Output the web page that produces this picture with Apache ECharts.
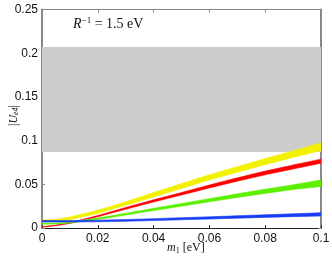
<!DOCTYPE html>
<html><head><meta charset="utf-8">
<script src="https://cdn.jsdelivr.net/npm/echarts@6/dist/echarts.min.js"></script>
<style>html,body{margin:0;padding:0;background:#fff}#c{width:332px;height:258px}</style>
</head><body><div id="c"></div>
<script>
const m1 = [0, 0.005, 0.01, 0.02, 0.03, 0.04, 0.05, 0.06, 0.07, 0.08, 0.09, 0.1];
const yellowLow = [0.0068, 0.0074, 0.0095, 0.0167, 0.0260, 0.0355, 0.0452, 0.0550, 0.0638, 0.0725, 0.0808, 0.0887];
const yellowHigh = [0.0092, 0.0100, 0.0125, 0.0203, 0.0300, 0.0405, 0.0508, 0.0610, 0.0702, 0.0795, 0.0882, 0.0975];
const redLow = [0.0010, 0.0027, 0.0052, 0.0128, 0.0215, 0.0298, 0.0378, 0.0458, 0.0536, 0.0609, 0.0675, 0.0742];
const redHigh = [0.0014, 0.0033, 0.0060, 0.0142, 0.0235, 0.0322, 0.0406, 0.0492, 0.0574, 0.0651, 0.0721, 0.0788];
const greenLow = [0.0043, 0.0047, 0.0056, 0.0097, 0.0148, 0.0199, 0.0250, 0.0300, 0.0349, 0.0396, 0.0440, 0.0474];
const greenHigh = [0.0053, 0.0057, 0.0068, 0.0113, 0.0168, 0.0225, 0.0280, 0.0336, 0.0391, 0.0444, 0.0494, 0.0550];
const blueLow = [0.0069, 0.0069, 0.0069, 0.0071, 0.0077, 0.0085, 0.0094, 0.0102, 0.0112, 0.0121, 0.0130, 0.0137];
const blueHigh = [0.0085, 0.0085, 0.0086, 0.0089, 0.0097, 0.0107, 0.0118, 0.0128, 0.0140, 0.0151, 0.0162, 0.0175];
const excluded = [0.087, 0.207];
const xTicks = [0, 0.02, 0.04, 0.06, 0.08, 0.1];
const yTicks = [0, 0.05, 0.1, 0.15, 0.2, 0.25];

const bands = [
  {low: yellowLow, high: yellowHigh, color:'#f2f200'},
  {low: redLow, high: redHigh, color:'#ff0000'},
  {low: greenLow, high: greenHigh, color:'#5cf000'},
  {low: blueLow, high: blueHigh, color:'#1a3cf5'}
];
function bandItem(params, api) {
  const b = bands[params.dataIndex];
  const pts = [];
  for (let k = 0; k < m1.length; k++) pts.push(api.coord([m1[k], b.high[k]]));
  for (let k = m1.length - 1; k >= 0; k--) pts.push(api.coord([m1[k], b.low[k]]));
  return {type:'polygon', shape:{points:pts}, style:{fill:b.color, stroke:b.color, lineWidth:0.6}};
}
function greyItem(params, api) {
  const p = [api.coord([xTicks[0], excluded[1]]), api.coord([xTicks[xTicks.length-1], excluded[0]])];
  return {type:'rect', shape:{x:p[0][0], y:p[0][1], width:p[1][0]-p[0][0], height:p[1][1]-p[0][1]}, style:{fill:'#cccccc'}};
}
const labelStyle = {fontFamily:'Liberation Sans, Arial', fontSize:12, color:'#111'};
const chart = echarts.init(document.getElementById('c'), null, {renderer:'canvas'});
chart.setOption({
  animation:false,
  grid:{left:42, right:11, top:9.5, bottom:30, containLabel:false, outerBoundsMode:'none'},
  xAxis:[{type:'value', min:0, max:0.1, interval:0.02, splitLine:{show:false},
      axisLine:{lineStyle:{color:'#222', width:1}}, axisTick:{inside:true, length:3, lineStyle:{color:'#222'}},
      axisLabel:Object.assign({margin:5, formatter:v=>String(+v.toFixed(2))}, labelStyle)},
    {type:'value', position:'top', min:0, max:0.1, interval:0.02, splitLine:{show:false},
      axisLine:{onZero:false, lineStyle:{color:'#888', width:1}}, axisTick:{inside:true, length:3, lineStyle:{color:'#888'}},
      axisLabel:{show:false}}],
  yAxis:[{type:'value', min:0, max:0.25, interval:0.05, splitLine:{show:false},
      axisLine:{lineStyle:{color:'#888', width:2}}, axisTick:{inside:true, length:3, lineStyle:{color:'#888'}},
      axisLabel:Object.assign({margin:4, formatter:v=>String(+v.toFixed(2))}, labelStyle)},
    {type:'value', position:'right', min:0, max:0.25, interval:0.05, splitLine:{show:false},
      axisLine:{onZero:false, lineStyle:{color:'#888', width:2}}, axisTick:{inside:true, length:3, lineStyle:{color:'#888'}},
      axisLabel:{show:false}}],
  graphic:[
    {type:'text', left:73, top:16, style:{rich:{
        i:{fontFamily:'Liberation Serif, serif', fontStyle:'italic', fontSize:14, fill:'#111'},
        s:{fontFamily:'Liberation Serif, serif', fontSize:9, fill:'#111', padding:[0,0,8,0]},
        n:{fontFamily:'Liberation Serif, serif', fontSize:14, fill:'#111'}},
      text:'{i|R}{s|−1}{n| = 1.5 eV}'}},
    {type:'text', left:167, top:242, style:{rich:{
        i:{fontFamily:'Liberation Serif, serif', fontStyle:'italic', fontSize:12, fill:'#111'},
        s:{fontFamily:'Liberation Serif, serif', fontSize:8, fill:'#111', padding:[5,0,0,0]},
        n:{fontFamily:'Liberation Serif, serif', fontSize:12, fill:'#111'}},
      text:'{i|m}{s|1}{n| [eV]}'}},
    {type:'text', x:7, y:126, rotation:Math.PI/2, style:{rich:{
        i:{fontFamily:'Liberation Serif, serif', fontStyle:'italic', fontSize:12, fill:'#111'},
        s:{fontFamily:'Liberation Serif, serif', fontStyle:'italic', fontSize:8, fill:'#111', padding:[5,0,0,0]},
        n:{fontFamily:'Liberation Serif, serif', fontSize:12, fill:'#111'}},
      text:'{n||}{i|U}{s|e4}{n||}'}}
  ],
  series:[
    {type:'custom', silent:true, z:1, renderItem:greyItem, data:[0], clip:true},
    {type:'custom', silent:true, z:3, renderItem:bandItem, data:bands.map((b,i)=>i), clip:true}
  ]
});
</script></body></html>
